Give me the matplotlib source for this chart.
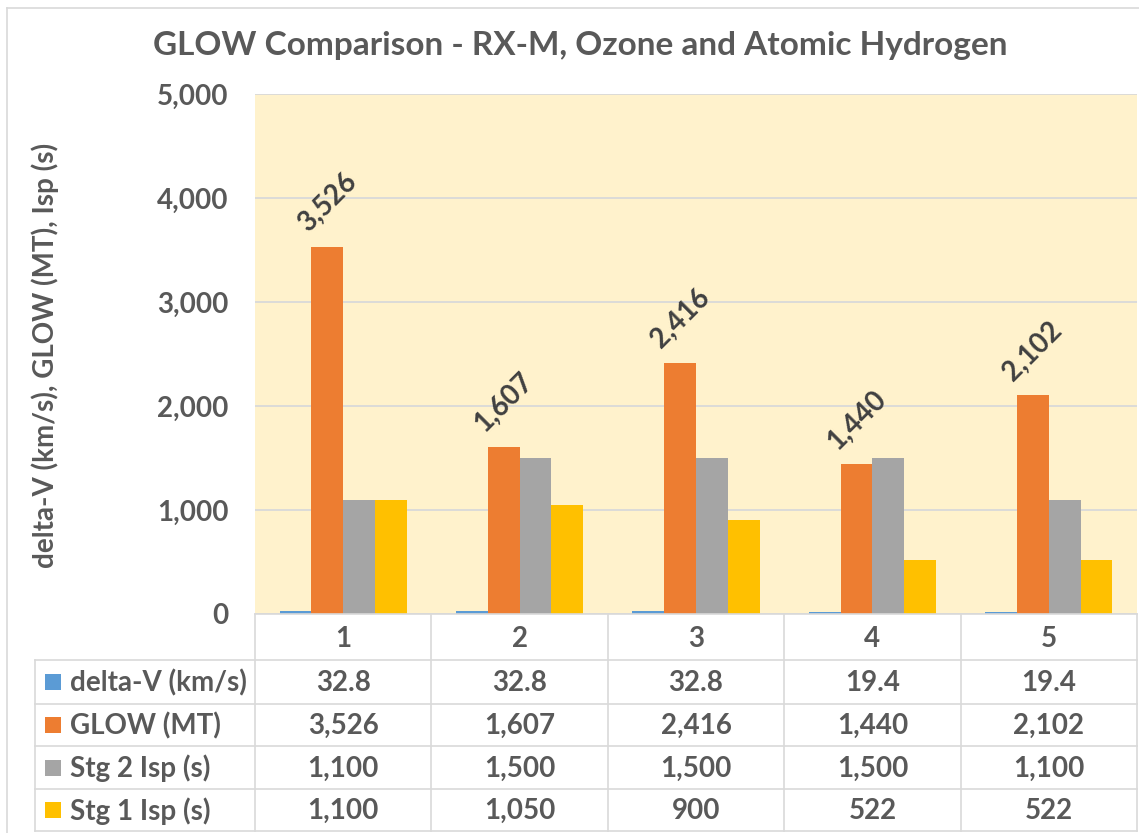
import matplotlib
matplotlib.use('Agg')
import matplotlib.pyplot as plt
from matplotlib.lines import Line2D
from matplotlib.patches import Rectangle

plt.rcParams['font.family'] = ['Lato', 'DejaVu Sans']

# data
cats = ['1', '2', '3', '4', '5']
series_names = ['delta-V (km/s)', 'GLOW (MT)', 'Stg 2 Isp (s)', 'Stg 1 Isp (s)']
delta_v = [32.8, 32.8, 32.8, 19.4, 19.4]
glow = [3526, 1607, 2416, 1440, 2102]
stg2_isp = [1100, 1500, 1500, 1500, 1100]
stg1_isp = [1100, 1050, 900, 522, 522]
yticks = [0, 1000, 2000, 3000, 4000, 5000]

colors = ['#5B9BD5', '#ED7D31', '#A5A5A5', '#FFC000']
txt = '#595959'
grid = '#D9D9D9'

W, H = 1139, 833
fig = plt.figure(figsize=(W / 100, H / 100), dpi=100)

def fx(px):
    return px / W

def fy(py):
    return 1 - py / H

# plot area in pixel coords
x0, x1, ytop, ybot = 255, 1137, 94, 614
ax = fig.add_axes([fx(x0), fy(ybot), fx(x1) - fx(x0), fy(ytop) - fy(ybot)])
ax.set_facecolor('#FFF2CC')
ax.set_xlim(-0.5, len(cats) - 0.5)
ax.set_ylim(0, 5000)
for s in ax.spines.values():
    s.set_visible(False)
ax.set_yticks(yticks)
ax.yaxis.grid(True, color=grid, lw=1.3)
ax.set_axisbelow(True)
ax.tick_params(axis='y', length=0, pad=19, labelsize=20, labelcolor=txt)
ax.set_yticklabels([f'{v:,}' for v in yticks], fontweight='bold')
ax.set_xticks([])

data = [delta_v, glow, stg2_isp, stg1_isp]
bw = 0.18
offs = [-0.27, -0.09, 0.09, 0.27]
xs = range(len(cats))
for vals, c, o in zip(data, colors, offs):
    ax.bar([x + o for x in xs], vals, width=bw, color=c, zorder=2)

for x, v in zip(xs, glow):
    ax.annotate(f'{v:,}', (x - 0.09, v), xytext=(0, 32), textcoords='offset points',
                ha='center', va='center', rotation=45, rotation_mode='anchor',
                fontsize=20, fontweight='bold', color='#404040')

# y label
fig.text(fx(45), fy(355), 'delta-V (km/s), GLOW (MT), Isp (s)', rotation=90,
         ha='center', va='center', fontsize=20, fontweight='bold', color=txt)

# title
fig.text(fx(580), fy(45), 'GLOW Comparison - RX-M, Ozone and Atomic Hydrogen',
         ha='center', va='center', fontsize=24, fontweight='bold', color=txt)

# outer frame
fig.add_artist(Line2D([fx(7), fx(7)], [fy(8), fy(833)], color=grid, lw=1.2))
fig.add_artist(Line2D([fx(7), fx(1139)], [fy(8), fy(8)], color=grid, lw=1.2))

# data table
col_w = (x1 - x0) / len(cats)
cols = [x0 + i * col_w for i in range(len(cats) + 1)]
rows = [614, 660, 704, 746, 789, 831]
tl = 35

def hline(y, xa, xb):
    fig.add_artist(Line2D([fx(xa), fx(xb)], [fy(y), fy(y)], color=grid, lw=1.2))

def vline(x, ya, yb):
    fig.add_artist(Line2D([fx(x), fx(x)], [fy(ya), fy(yb)], color=grid, lw=1.2))

hline(rows[0], x0, x1)
for y in rows[1:]:
    hline(y, tl, x1)
for x in cols:
    vline(x, rows[0], rows[-1])
vline(tl, rows[1], rows[-1])

for i, c in enumerate(cats):
    fig.text(fx((cols[i] + cols[i + 1]) / 2), fy((rows[0] + rows[1]) / 2 + 2), c,
             ha='center', va='center', fontsize=20, fontweight='bold', color=txt)

fmts = ['{:.1f}', '{:,}', '{:,}', '{:,}']
for r, (name, vals, c, f) in enumerate(zip(series_names, data, colors, fmts)):
    yc = (rows[r + 1] + rows[r + 2]) / 2
    fig.add_artist(Rectangle((fx(45), fy(yc + 8)), fx(16), fy(0) - fy(16),
                             facecolor=c, edgecolor='none'))
    fig.text(fx(70), fy(yc + 1), name, ha='left', va='center', fontsize=20,
             fontweight='bold', color=txt)
    for i, v in enumerate(vals):
        fig.text(fx((cols[i] + cols[i + 1]) / 2), fy(yc + 1), f.format(v),
                 ha='center', va='center', fontsize=20, fontweight='bold', color=txt)

fig.savefig('out.png', dpi=100, facecolor='white')
